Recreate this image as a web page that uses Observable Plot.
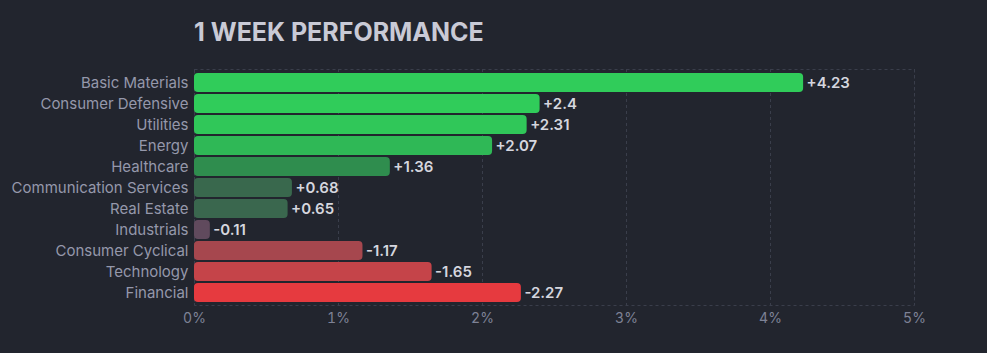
<!DOCTYPE html>
<html><head><meta charset="utf-8">
<script src="https://cdn.jsdelivr.net/npm/d3@7"></script>
<script src="https://cdn.jsdelivr.net/npm/@observablehq/plot@0.6"></script>
<style>
html,body{margin:0;padding:0;background:#22252e;}
#title{height:50px;box-sizing:border-box;padding-left:194px;padding-top:17px;font-family:Inter,sans-serif;font-weight:700;font-size:25px;line-height:30px;color:#c9cad6;white-space:nowrap}
#chart svg{display:block}
</style></head><body>
<div id="title">1 WEEK PERFORMANCE</div>
<div id="chart"></div>
<script>
const sectors = ["Basic Materials","Consumer Defensive","Utilities","Energy","Healthcare","Communication Services","Real Estate","Industrials","Consumer Cyclical","Technology","Financial"];
const changes = [4.23, 2.4, 2.31, 2.07, 1.36, 0.68, 0.65, -0.11, -1.17, -1.65, -2.27];
const xTicks = [0, 1, 2, 3, 4, 5];
const colorStops = [-2.3, -1.6, -1.1, 0, 0.7, 1.4, 2.4];
const colorRange = ["#e8393e", "#c2454a", "#a1474f", "#594a5e", "#38694d", "#2e8f4e", "#30cc5a"];

const data = sectors.map((s, i) => ({sector: s, value: changes[i]}));
const color = d3.scaleLinear().domain(colorStops).range(colorRange).clamp(true);
const fmt = v => (v > 0 ? "+" : "") + v;
const gridColor = "#3a3e4b";

const chart = Plot.plot({
  width: 987, height: 303,
  marginLeft: 194, marginRight: 73, marginTop: 19, marginBottom: 48,
  style: {background: "transparent", fontFamily: "Inter, sans-serif", fontSize: "14px", color: "#9598ab"},
  x: {domain: [0, 5], label: null},
  y: {domain: sectors, padding: 0.1, label: null},
  color: {type: "identity"},
  marks: [
    Plot.frame({stroke: gridColor, strokeDasharray: "3,3"}),
    Plot.ruleX(xTicks, {stroke: gridColor, strokeDasharray: "3,3"}),
    Plot.barX(data, {x: d => Math.abs(d.value), y: "sector", fill: d => color(d.value), rx: 4}),
    Plot.text(data, {x: d => Math.abs(d.value), y: "sector", text: d => fmt(d.value), textAnchor: "start", dx: 3, fill: "#d5d6de", fontWeight: 600, fontSize: 15}),
    Plot.axisX({ticks: xTicks, tickSize: 0, tickPadding: 8, tickFormat: d => d + "%", color: "#7e8296", fontSize: 14, label: null}),
    Plot.axisY({tickSize: 0, tickPadding: 6, color: "#9598ab", fontSize: 15, label: null})
  ]
});
document.getElementById("chart").appendChild(chart);
</script>
</body></html>
